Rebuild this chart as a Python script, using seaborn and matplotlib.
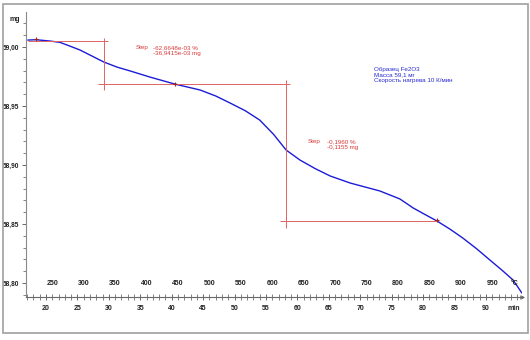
import matplotlib
matplotlib.use("Agg")
import matplotlib.pyplot as plt
import matplotlib.ticker as mticker
from matplotlib.patches import Rectangle
import seaborn as sns
import pandas as pd

# ---- data ----
time_min = [17.1, 18.4, 20.6, 22.2, 23.8, 25.4, 27.0, 29.2, 31.3, 33.4, 36.5,
            40.5, 44.5, 47.0, 49.3, 51.7, 54.0, 56.2, 58.2, 60.4, 62.8, 65.2,
            68.4, 73.1, 76.3, 78.4, 80.3, 82.2, 84.3, 86.3, 88.5, 90.6, 92.5,
            94.3, 95.7]
mass_mg = [59.0059, 59.0062, 59.0051, 59.0040, 59.0008, 58.9975, 58.9932,
           58.9873, 58.9830, 58.9797, 58.9746, 58.9686, 58.9636, 58.9585,
           58.9525, 58.9460, 58.9381, 58.9260, 58.9127, 58.9042, 58.8970,
           58.8907, 58.8847, 58.8780, 58.8712, 58.8636, 58.8580, 58.8525,
           58.8455, 58.8381, 58.8290, 58.8195, 58.8110, 58.8025, 58.7915]

# step evaluation points
step_pt_time = [18.4, 40.5, 82.2]
step_pt_mass = [59.0068, 58.9690, 58.8535]

# step construction lines
step_levels = [59.0051, 58.9686, 58.8525]
step_hmin = [17.1, 28.3, 57.2]
step_hmax = [29.8, 58.8, 82.2]
step_vx = [29.2, 58.2]
step_vtop = [59.0076, 58.9720]
step_vbot = [58.9636, 58.8466]

step_labels = ["Step", "Step"]
step_values = ["-62,6648e-03 %\n-36,9415e-03 mg", "-0,1960 %\n-0,1155 mg"]

info_text = "Образец Fe2O3\nМасса 59,1 мг\nСкорость нагрева 10 К/мин"

heating_rate = 10.0   # K/min
temp_offset = 40.0    # °C at t = 0

time_ticks = [20, 25, 30, 35, 40, 45, 50, 55, 60, 65, 70, 75, 80, 85, 90]
temp_ticks = [250, 300, 350, 400, 450, 500, 550, 600, 650, 700, 750, 800,
              850, 900, 950]
y_ticks = [58.80, 58.85, 58.90, 58.95, 59.00]

# ---- style ----
sns.set_theme(style="white")
plt.rcParams["font.family"] = ["Liberation Sans", "DejaVu Sans"]

W, H = 530, 340
fig = plt.figure(figsize=(W / 100, H / 100), dpi=100)
ax = fig.add_axes([26 / W, 1 - 297 / H, 496 / W, 285 / H])

df = pd.DataFrame({"t": time_min, "m": mass_mg})
sns.lineplot(data=df, x="t", y="m", ax=ax, color="#1c1cd8", linewidth=1.0,
             legend=False)

# step lines
ax.hlines(step_levels, step_hmin, step_hmax, colors="#e06464", linewidth=0.7)
ax.vlines(step_vx, step_vbot, step_vtop, colors="#e06464", linewidth=0.7)
ax.plot(step_pt_time, step_pt_mass, linestyle="none", marker="+",
        markersize=3.5, markeredgewidth=0.8, color="#a02020")

red = "#d83a3a"
ax.text(34.2, 59.0019, step_labels[0], color=red, fontsize=4.5, va="top")
ax.text(37.0, 59.0019, step_values[0], color=red, fontsize=4.5, va="top",
        linespacing=1.2)
ax.text(61.7, 58.9220, step_labels[1], color=red, fontsize=4.5, va="top")
ax.text(64.7, 58.9220, step_values[1], color=red, fontsize=4.5, va="top",
        linespacing=1.2)

ax.text(0.702, 0.808, info_text, transform=ax.transAxes, color="#2a2ad0",
        fontsize=4.5, va="top", ha="left", linespacing=1.15)

# ---- axes ----
ax.set_xlim(16.82, 95.72)
ax.set_ylim(58.7881, 59.0297)
ax.set_xlabel("")
ax.set_ylabel("")
for s in ["top", "right"]:
    ax.spines[s].set_visible(False)
ax.spines["left"].set_color("#8a8a8a")
ax.spines["bottom"].set_color("#6a6a6a")
ax.spines["left"].set_linewidth(0.8)
ax.spines["bottom"].set_linewidth(0.8)

ax.set_xticks(time_ticks)
ax.xaxis.set_minor_locator(mticker.MultipleLocator(1))
ax.xaxis.set_major_formatter(mticker.FuncFormatter(lambda v, p: f"{v:g}"))
ax.tick_params(axis="x", which="major", direction="inout", length=5,
               width=0.6, color="#505050", pad=3.5, labelsize=5,
               bottom=True)
ax.tick_params(axis="x", which="minor", direction="inout", length=4,
               width=0.5, color="#505050", bottom=True)

ax.set_yticks(y_ticks)
ax.yaxis.set_minor_locator(mticker.MultipleLocator(0.01))
ax.yaxis.set_major_formatter(
    mticker.FuncFormatter(lambda v, p: f"{v:.2f}".replace(".", ",")))
ax.tick_params(axis="y", which="major", direction="out", length=3,
               width=0.6, color="#505050", pad=2, labelsize=4.7, left=True)
ax.tick_params(axis="y", which="minor", direction="out", length=2.2,
               width=0.5, color="#505050", left=True)
for lab in ax.get_xticklabels() + ax.get_yticklabels():
    lab.set_fontweight("bold")
    lab.set_color("#222222")

# temperature scale (secondary axis on the time axis line)
secax = ax.secondary_xaxis(
    0.0, functions=(lambda t: heating_rate * t + temp_offset,
                    lambda T: (T - temp_offset) / heating_rate))
secax.set_alignment("top")
secax.set_xticks(temp_ticks)
secax.xaxis.set_major_formatter(mticker.FuncFormatter(lambda v, p: f"{v:g}"))
secax.tick_params(axis="x", length=0, pad=7.5, labelsize=5)
for sp in secax.spines.values():
    sp.set_visible(False)
for lab in secax.get_xticklabels():
    lab.set_fontweight("bold")
    lab.set_color("#222222")

# unit labels
ax.text(-0.022, 0.975, "mg", transform=ax.transAxes, fontsize=5,
        fontweight="bold", ha="center", va="center", color="#222222")
ax.text(0.986, 0.049, "°C", transform=ax.transAxes, fontsize=5,
        fontweight="bold", ha="center", va="center", color="#222222")
ax.text(0.984, -0.042, "min", transform=ax.transAxes, fontsize=5,
        fontweight="bold", ha="center", va="center", color="#222222")

# arrow at end of the time axis
ax.plot(1, 0, marker=">", markersize=2.5, markerfacecolor="white",
        markeredgecolor="#505050", markeredgewidth=0.6,
        transform=ax.transAxes, clip_on=False)

# outer frame
fig.patches.append(Rectangle((3 / W, 1 - 333 / H), 525 / W, 329 / H,
                             transform=fig.transFigure, fill=False,
                             edgecolor="#a0a0a0", linewidth=1.2))

fig.savefig("out.png", dpi=100)
